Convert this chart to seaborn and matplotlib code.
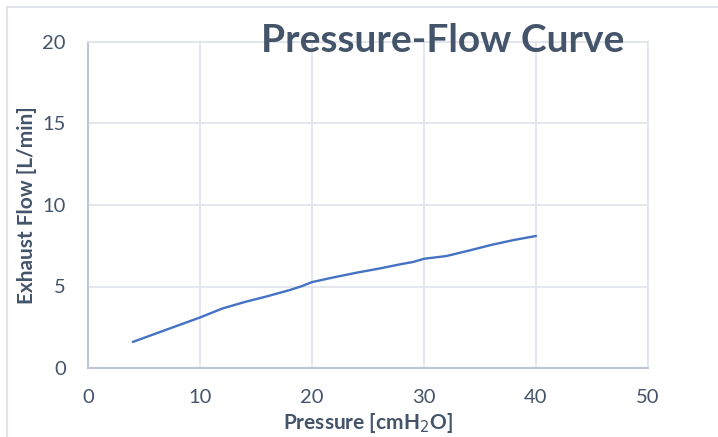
import matplotlib
matplotlib.use('Agg')
import matplotlib.pyplot as plt
from matplotlib.patches import Rectangle
import seaborn as sns
import pandas as pd

# ── Data ──────────────────────────────────────────────────
pressure = [4, 6, 8, 10, 12, 14, 16, 18, 19, 20, 22, 24, 26, 28, 29, 30, 32, 34, 36, 38, 40]
flow     = [1.6, 2.1, 2.6, 3.1, 3.65, 4.05, 4.4, 4.78, 5.0, 5.27, 5.57, 5.85, 6.1, 6.38, 6.5, 6.7, 6.87, 7.2, 7.55, 7.85, 8.1]
x_ticks  = [0, 10, 20, 30, 40, 50]
y_ticks  = [0, 5, 10, 15, 20]

df = pd.DataFrame({'Pressure': pressure, 'Flow': flow})

# ── Style ─────────────────────────────────────────────────
sns.set_theme(style='white')
plt.rcParams['font.family'] = ['Lato', 'DejaVu Sans']

TXT  = '#44546A'
GRID = '#DFE3EA'
AXIS = '#BFC6D3'

fig = plt.figure(figsize=(7.18, 4.37), dpi=100)
ax = fig.add_axes([88 / 718, 1 - 368 / 437, 560 / 718, 326 / 437])

sns.lineplot(data=df, x='Pressure', y='Flow', ax=ax, color='#4472C4', linewidth=1.7)

ax.set_xlim(0, 50)
ax.set_ylim(0, 20)
ax.set_xticks(x_ticks)
ax.set_yticks(y_ticks)
ax.grid(True, color=GRID, linewidth=1.2)
ax.set_axisbelow(True)
ax.tick_params(axis='x', length=0, labelsize=14.5, labelcolor=TXT, pad=15)
ax.tick_params(axis='y', length=0, labelsize=14.5, labelcolor=TXT, pad=16)

for side in ['top', 'right']:
    ax.spines[side].set_color(GRID)
    ax.spines[side].set_linewidth(1.2)
for side in ['left', 'bottom']:
    ax.spines[side].set_color(AXIS)
    ax.spines[side].set_linewidth(1.5)

ax.set_xlabel('Pressure [cmH$_2$O]', fontsize=15, fontweight='bold', color=TXT, labelpad=4)
ax.set_ylabel('Exhaust Flow [L/min]', fontsize=15, fontweight='bold', color=TXT, labelpad=4)

fig.text(443 / 718, 1 - 40 / 437, 'Pressure-Flow Curve', fontsize=28, fontweight='bold',
         color=TXT, ha='center', va='center')

# chart frame
fig.patches.append(Rectangle((6.5 / 718, -0.2), 1.2, 1.2 - 6.5 / 437,
                             transform=fig.transFigure, fill=False,
                             edgecolor='#E0E3E8', linewidth=1.5))

plt.savefig('out.png', dpi=100)
